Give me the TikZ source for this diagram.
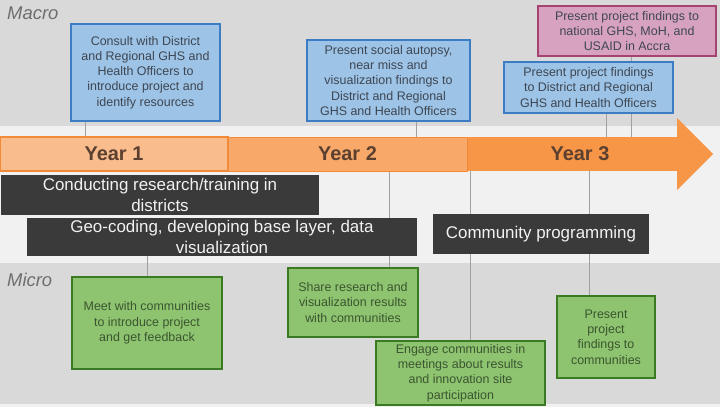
\documentclass[tikz,border=0pt]{standalone}
\usepackage{fontspec}
\setmainfont{Liberation Sans}
\usetikzlibrary{calc}
\definecolor{bandgray}{HTML}{D9D9D9}
\definecolor{bandlight}{HTML}{F1F1F1}
\definecolor{boxblue}{HTML}{9DC3E6}
\definecolor{boxblueborder}{HTML}{3B7CC4}
\definecolor{bluetext}{HTML}{3E4652}
\definecolor{boxpink}{HTML}{D7A2BF}
\definecolor{boxpinkborder}{HTML}{A5426F}
\definecolor{boxgreen}{HTML}{8EC470}
\definecolor{boxgreenborder}{HTML}{3A7A22}
\definecolor{greentext}{HTML}{3B5530}
\definecolor{darkbox}{HTML}{3A3A3A}
\definecolor{yearone}{HTML}{F9BD8D}
\definecolor{yeartwo}{HTML}{F8A868}
\definecolor{yearthree}{HTML}{F79646}
\definecolor{yearline}{HTML}{F28A38}
\definecolor{yeartext}{HTML}{5B4030}
\definecolor{connline}{HTML}{A0A0A0}
\definecolor{labelgray}{HTML}{6E6E6E}
\pgfdeclarelayer{background}
\pgfdeclarelayer{connectors}
\pgfsetlayers{background,connectors,main}
\begin{document}
\begin{tikzpicture}[x=1bp,y=-1bp,
  box/.style={rectangle, inner sep=0pt, align=center, font=\fontsize{12.5}{15.3}\selectfont},
  bluebox/.style={box, fill=boxblue, draw=boxblueborder, line width=1.3bp, text=bluetext},
  pinkbox/.style={box, fill=boxpink, draw=boxpinkborder, line width=1.3bp, text=bluetext},
  greenbox/.style={box, fill=boxgreen, draw=boxgreenborder, line width=1.5bp, text=greentext},
  darkbar/.style={rectangle, inner sep=0pt, align=center, fill=darkbox, text=white!95!black, font=\fontsize{17}{21}\selectfont},
  yearbar/.style={rectangle, inner sep=0pt, minimum height=34bp, text=yeartext, font=\fontsize{20}{24}\selectfont\bfseries},
  conn/.style={draw=connline, line width=0.9bp},
  bandlabel/.style={anchor=west, inner sep=0pt, text=labelgray, font=\fontsize{18.5}{22}\selectfont\itshape}
]
\useasboundingbox (0,0) rectangle (720,407);
\begin{pgfonlayer}{background}
  \fill[bandgray] (0,0) rectangle (720,126);
  \fill[bandlight] (0,126) rectangle (720,263);
  \fill[bandgray] (0,263) rectangle (720,404);
  \fill[bandlight] (0,404) rectangle (720,407);
\end{pgfonlayer}

\node[bandlabel] (macro) at (7,13) {Macro};
\node[bandlabel] (micro) at (7,280) {Micro};

% arrow
\fill[yearthree] (677,118) -- (713,154) -- (677,190) -- cycle;
\node[yearbar, fill=yearthree, minimum width=226bp] (yr3) at (580,154) {Year 3};
\node[yearbar, fill=yeartwo, draw=yearline, line width=0.8bp, minimum width=239bp] (yr2) at (347.5,154) {Year 2};
\node[yearbar, fill=yearone, draw=yearline, line width=1.2bp, minimum width=228bp] (yr1) at (114,154) {Year 1};

% macro boxes
\node[bluebox, minimum width=149bp, minimum height=97bp] (b1) at (145.5,72.5)
  {Consult with District\\and Regional GHS and\\Health Officers to\\introduce project and\\identify resources};
\node[bluebox, minimum width=163bp, minimum height=81bp] (b2) at (388.5,80.5)
  {Present social autopsy,\\near miss and\\visualization findings to\\District and Regional\\GHS and Health Officers};
\node[pinkbox, minimum width=178bp, minimum height=50bp] (pk) at (627,31)
  {Present project findings to\\national GHS, MoH, and\\USAID in Accra};
\node[bluebox, minimum width=169bp, minimum height=51bp] (b3) at (588.5,87.5)
  {Present project findings\\to District and Regional\\GHS and Health Officers};

% activity bars
\node[darkbar, minimum width=318bp, minimum height=40bp] (d1) at (160,195)
  {Conducting research/training in\\districts};
\node[darkbar, minimum width=390bp, minimum height=38bp] (d2) at (222,237)
  {Geo-coding, developing base layer, data\\visualization};
\node[darkbar, minimum width=216bp, minimum height=40bp] (d3) at (541,234)
  {Community programming};

% micro boxes
\node[greenbox, minimum width=150bp, minimum height=92bp] (g1) at (147,323)
  {Meet with communities\\to introduce project\\and get feedback};
\node[greenbox, minimum width=130bp, minimum height=69bp] (g2) at (353,302.5)
  {Share research and\\visualization results\\with communities};
\node[greenbox, minimum width=169bp, minimum height=64bp] (g3) at (460.5,373)
  {Engage communities in\\meetings about results\\and innovation site\\participation};
\node[greenbox, minimum width=98bp, minimum height=82bp] (g4) at (606,337)
  {Present\\project\\findings to\\communities};

% connectors
\begin{pgfonlayer}{connectors}
  \draw[conn] ($(b1.south west)+(15,0)$) coordinate (c1) -- (c1 |- yr1.north);
  \draw[conn] ($(b2.south west)+(110,0)$) coordinate (c2) -- (c2 |- yr2.north);
  \draw[conn] ($(b3.south west)+(103,0)$) coordinate (c3) -- (c3 |- yr3.north);
  \draw[conn] ($(pk.south west)+(94,0)$) coordinate (c4) -- (c4 |- yr3.north);
  \draw[conn] ($(g1.north west)+(76,0)$) coordinate (c5) -- (c5 |- d2.south);
  \draw[conn] ($(g2.north west)+(102,0)$) coordinate (c6) -- (c6 |- yr2.south);
  \draw[conn] ($(g3.north west)+(95,0)$) coordinate (c7) -- (c7 |- yr3.south);
  \draw[conn] ($(g4.north west)+(33,0)$) coordinate (c8) -- (c8 |- yr3.south);
\end{pgfonlayer}
\end{tikzpicture}
\end{document}
